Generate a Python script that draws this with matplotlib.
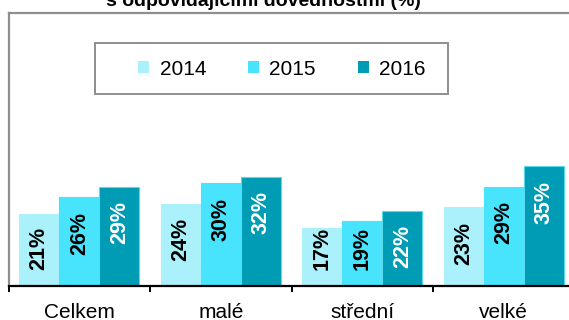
import matplotlib
matplotlib.use("Agg")
import matplotlib.pyplot as plt
from matplotlib.patches import Patch, Rectangle
import numpy as np

plt.rcParams['font.family'] = ['Liberation Sans', 'DejaVu Sans']

categories = ["Celkem", "malé", "střední", "velké"]
years = ["2014", "2015", "2016"]
values = {
    "2014": [21, 24, 17, 23],
    "2015": [26, 30, 19, 29],
    "2016": [29, 32, 22, 35],
}
colors = ["#abf1fb", "#48e4fd", "#009bb4"]
label_colors = ["black", "black", "white"]
title = "s odpovídajícími dovednostmi (%)"


def main():
    fig = plt.figure(figsize=(5.69, 3.2), dpi=100)
    W, H = 569, 320
    # plot area runs a little past the right edge of the figure
    ax = fig.add_axes([8.5 / W, 34 / H, 566 / W, 273.5 / H])

    x = np.arange(len(categories))
    width = 0.283
    ymax = 80

    for i, yr in enumerate(years):
        pos = x + (i - 1) * width
        edge = "#5ad9ec" if i == 2 else colors[i]
        ax.bar(pos, values[yr], width, color=colors[i], edgecolor=edge,
               linewidth=0.8, label=yr, zorder=2)
        for xp, v in zip(pos, values[yr]):
            # label sits near the top of the bar, but not too close to the base
            yc = max(v - 10.5, 11.1)
            ax.text(xp, yc, f"{v}%", rotation=90, ha="center", va="center",
                    fontsize=15.5, fontweight="bold", color=label_colors[i],
                    zorder=3)

    ax.set_xlim(-0.5, len(categories) - 0.5)
    ax.set_ylim(0, ymax)
    ax.set_yticks([])

    ax.set_xticks(np.arange(len(categories) + 1) - 0.5)
    ax.set_xticklabels([])
    ax.tick_params(axis="x", which="major", length=4.3, width=1.4,
                   color="black", direction="out")
    ax.set_xticks(x, minor=True)
    ax.set_xticklabels(categories, minor=True, fontsize=15)
    ax.tick_params(axis="x", which="minor", length=0, pad=12)

    for side in ["left", "top", "right"]:
        ax.spines[side].set_color("#8e8e8e")
        ax.spines[side].set_linewidth(1.6)
    ax.spines["bottom"].set_color("black")
    ax.spines["bottom"].set_linewidth(1.6)
    ax.spines["bottom"].set_zorder(4)

    handles = [Patch(facecolor=c, edgecolor="none") for c in colors]
    ax.legend(handles, years, loc="center", bbox_to_anchor=(0.483, 0.793),
              ncol=3, frameon=False, fontsize=15, handlelength=0.53,
              handleheight=0.53, handletextpad=0.5, columnspacing=2.0)
    frame = Rectangle((86.5 / 566, (286 - 94) / 273.5), 353 / 566, 51 / 273.5,
                      transform=ax.transAxes, fill=False,
                      edgecolor="#8e8e8e", linewidth=1.4, zorder=5)
    ax.add_patch(frame)

    fig.text(263.5 / W, (H - 5.5) / H, title, ha="center", va="baseline",
             fontsize=14, fontweight="bold")

    fig.savefig("out.png", dpi=100)


if __name__ == "__main__":
    main()
